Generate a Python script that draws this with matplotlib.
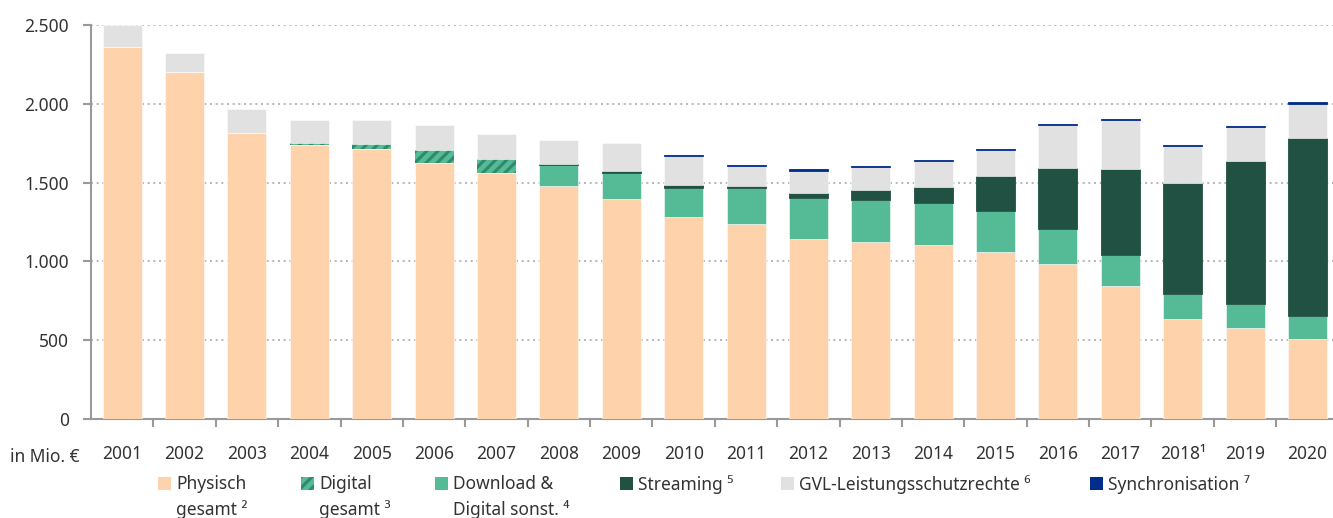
import matplotlib
matplotlib.use("Agg")
import matplotlib.pyplot as plt
from matplotlib.patches import Rectangle
from matplotlib.ticker import FuncFormatter, FixedLocator
import numpy as np

plt.rcParams['font.family'] = ['Noto Sans', 'DejaVu Sans']
plt.rcParams['hatch.linewidth'] = 2.2

# --- Data (Mio. €) ---
years = ["2001", "2002", "2003", "2004", "2005", "2006", "2007", "2008", "2009", "2010",
         "2011", "2012", "2013", "2014", "2015", "2016", "2017", "2018¹", "2019", "2020"]
physisch = [2362, 2202, 1813, 1738, 1715, 1622, 1563, 1478, 1398, 1284,
            1235, 1140, 1121, 1104, 1060, 986, 846, 633, 575, 506]
digital = [0, 0, 0, 11, 30, 85, 87, 0, 0, 0,
           0, 0, 0, 0, 0, 0, 0, 0, 0, 0]
download = [0, 0, 0, 0, 0, 0, 0, 136, 163, 184,
            229, 264, 269, 265, 262, 220, 193, 162, 153, 146]
streaming = [0, 0, 0, 0, 0, 0, 0, 6, 11, 17,
             14, 28, 60, 105, 222, 385, 545, 704, 909, 1133]
gvl = [138, 120, 152, 148, 152, 156, 156, 150, 177, 184,
       127, 143, 150, 163, 163, 273, 313, 233, 214, 214]
sync = [0, 0, 0, 0, 0, 0, 0, 0, 0, 4,
        7, 9, 5, 8, 6, 8, 7, 9, 8, 10]

# --- Colours ---
C_PHYS = "#FED3AC"
C_DIG = "#55BA96"
C_DIG_HATCH = "#2E8A68"
C_DL = "#55BA96"
C_STREAM = "#215142"
C_GVL = "#E1E1E1"
C_SYNC = "#002C8A"
TXT = "#333333"
SPINE = "#999999"

fig = plt.figure(figsize=(13.33, 5.18), dpi=100)
ax = fig.add_axes([0.0683, 0.1911, 0.9317, 0.7606])

x = np.arange(len(years))
w = 0.625
bottom = np.zeros(len(years))

# --- Plot stacked bars ---
layers = [(physisch, C_PHYS), (digital, None), (download, C_DL),
          (streaming, C_STREAM), (gvl, C_GVL), (sync, C_SYNC)]
for vals, col in layers:
    vals = np.array(vals, dtype=float)
    m = vals > 0  # skip empty segments
    if col is None:
        ax.bar(x[m], vals[m], w, bottom=bottom[m], color=C_DIG, edgecolor=C_DIG_HATCH,
               hatch="///", linewidth=0, zorder=3)
    elif col in (C_SYNC, C_STREAM):
        # thin segments: outline in own colour so they stay visible
        ax.bar(x[m], vals[m], w, bottom=bottom[m], color=col, edgecolor=col,
               linewidth=0.6, zorder=3)
    else:
        ax.bar(x[m], vals[m], w, bottom=bottom[m], color=col, edgecolor="white",
               linewidth=0.4, zorder=3)
    bottom += vals

ax.set_xlim(-0.5, 19.41)
ax.set_ylim(0, 2500)

ax.yaxis.set_major_locator(FixedLocator([0, 500, 1000, 1500, 2000, 2500]))
ax.yaxis.set_major_formatter(FuncFormatter(lambda v, p: f"{int(v):,}".replace(",", ".")))
ax.grid(axis="y", linestyle=(0, (1.2, 2.2)), color="#AAAAAA", linewidth=1.2, zorder=0)

ax.set_xticks(x)
ax.set_xticklabels(years)
ax.set_xticks(np.arange(0.5, 19.5, 1), minor=True)
ax.tick_params(axis="x", which="major", length=0, pad=19, labelsize=12.5, labelcolor=TXT)
ax.tick_params(axis="x", which="minor", length=6, width=1.5, color=SPINE)
ax.tick_params(axis="y", length=6, width=1.5, color=SPINE, pad=10, labelsize=12.5,
               labelcolor=TXT)

for s in ["top", "right"]:
    ax.spines[s].set_visible(False)
for s in ["left", "bottom"]:
    ax.spines[s].set_color(SPINE)
    ax.spines[s].set_linewidth(1.5)

# --- Unit label ---
fig.text(10 / 1333, 1 - 457 / 518, "in Mio. €", fontsize=12.5, color=TXT, va="center")

# --- Legend (manual) ---
legend_items = [
    (158, C_PHYS, None, "Physisch\ngesamt ²"),
    (301, C_DIG, "///", "Digital\ngesamt ³"),
    (435, C_DL, None, "Download &\nDigital sonst. ⁴"),
    (620, C_STREAM, None, "Streaming ⁵"),
    (781, C_GVL, None, "GVL-Leistungsschutzrechte ⁶"),
    (1090, C_SYNC, None, "Synchronisation ⁷"),
]
for px, col, hatch, label in legend_items:
    rect = Rectangle((px / 1333, 1 - 490 / 518), 13 / 1333, 13 / 518,
                     transform=fig.transFigure, facecolor=col,
                     edgecolor=C_DIG_HATCH if hatch else "none",
                     hatch=hatch, linewidth=0)
    fig.patches.append(rect)
    fig.text((px + 18) / 1333, 1 - 475 / 518, label, fontsize=12.5, color=TXT,
             va="top", linespacing=1.45)

fig.savefig("out.png", dpi=100)
